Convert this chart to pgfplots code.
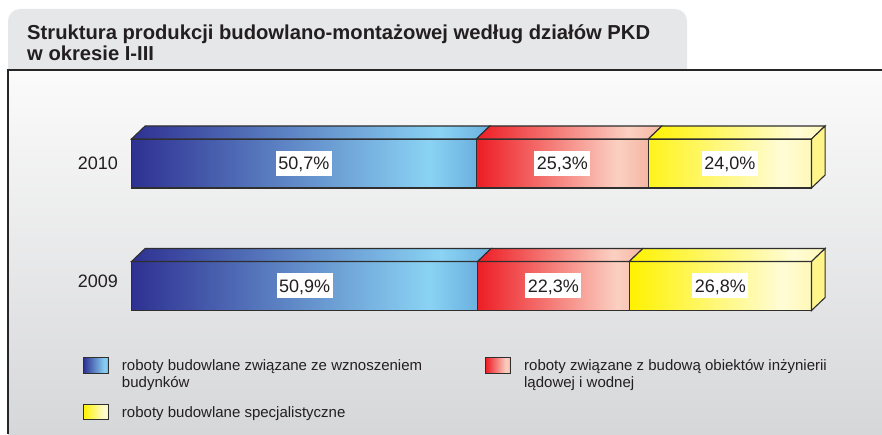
\documentclass[border=0pt]{standalone}
\usepackage{pgfplots}
\pgfplotsset{compat=1.18}
\usepackage{fontspec}
\setmainfont{Liberation Sans}
\definecolor{txt}{HTML}{231F20}
\definecolor{edge}{HTML}{2F2F2F}
\definecolor{bl1}{HTML}{2E3192}
\definecolor{bl2}{HTML}{8AD3F4}
\definecolor{bl3}{HTML}{6BB0DF}
\definecolor{rd1}{HTML}{ED1C24}
\definecolor{rd2}{HTML}{FBD0C2}
\definecolor{rd3}{HTML}{F5B6A3}
\definecolor{ye1}{HTML}{FFF200}
\definecolor{ye2}{HTML}{FFFCD6}
\definecolor{ye3}{HTML}{FFF8B8}
\definecolor{yeside}{HTML}{FFF58A}
\definecolor{titlegray}{HTML}{E6E7E8}
\definecolor{pantop}{HTML}{FBFBFB}
\definecolor{panbot}{HTML}{D6D7D9}
\pgfdeclarehorizontalshading{blueshade}{100bp}{color(0bp)=(bl1); color(25bp)=(bl1); color(68bp)=(bl2); color(75bp)=(bl3); color(100bp)=(bl3)}
\pgfdeclarehorizontalshading{redshade}{100bp}{color(0bp)=(rd1); color(25bp)=(rd1); color(66bp)=(rd2); color(75bp)=(rd3); color(100bp)=(rd3)}
\pgfdeclarehorizontalshading{yellowshade}{100bp}{color(0bp)=(ye1); color(25bp)=(ye1); color(67bp)=(ye2); color(75bp)=(ye3); color(100bp)=(ye3)}
\begin{document}
\begin{tikzpicture}
\useasboundingbox (0pt,0pt) rectangle (882pt,434pt);
% title box and panel
\fill[titlegray, rounded corners=12pt] (8pt,330pt) -- (8pt,425pt) -- (687pt,425pt) -- (687pt,330pt) -- cycle;
\shade[top color=pantop, bottom color=panbot] (8pt,0pt) rectangle (882pt,364pt);
\draw[line width=1.2pt, black!85] (8pt,0pt) -- (8pt,364pt) -- (882pt,364pt);
\node[anchor=base west, inner sep=0pt, text=txt, font=\bfseries\fontsize{20.2}{22}\selectfont] at (27pt,394pt) {Struktura produkcji budowlano-montażowej według działów PKD};
\node[anchor=base west, inner sep=0pt, text=txt, font=\bfseries\fontsize{20.2}{22}\selectfont] at (27pt,373pt) {w okresie I-III};
% front faces
\begin{axis}[
  at={(0pt,0pt)}, anchor=south west, scale only axis,
  width=882pt, height=434pt,
  xmin=-19.338, xmax=110.368, ymin=0, ymax=434,
  xbar stacked, bar width=49,
  axis line style={draw=none}, major tick length=0pt,
  xtick=\empty,
  ytick={153,270.5}, yticklabels={2009,2010},
  yticklabel style={anchor=east, inner sep=0pt, xshift=118pt, text=txt, font=\fontsize{18}{20}\selectfont},
  legend columns=2,
  legend style={at={(0.0941,0.1763)}, anchor=north west, draw=none, fill=none,
    inner sep=0pt, outer sep=0pt, row sep=30.4pt, text=txt,
    font=\fontsize{15}{17}\selectfont,
    cells={anchor=base west},
    nodes={inner sep=0pt},
    /tikz/every odd column/.append style={column sep=13pt},
    /tikz/every even column/.append style={column sep=63pt}},
]
\addplot[draw=edge, line width=1.1pt, shade, shading=blueshade,
  legend image code/.code={\draw[draw=edge, line width=1pt, shade, shading=blueshade] (0pt,-2.5pt) rectangle (25pt,12.8pt);}]
  coordinates {(50.9,148) (50.7,270.5)};
\addlegendentry{\begin{tabular}[t]{@{}l@{}}roboty budowlane związane ze wznoszeniem\\budynków\end{tabular}}
\addplot[draw=edge, line width=1.1pt, shade, shading=redshade,
  legend image code/.code={\draw[draw=edge, line width=1pt, shade, shading=redshade] (0pt,-2.5pt) rectangle (25pt,12.8pt);}]
  coordinates {(22.3,148) (25.3,270.5)};
\addlegendentry{\begin{tabular}[t]{@{}l@{}}roboty związane z budową obiektów inżynierii\\lądowej i wodnej\end{tabular}}
\addplot[draw=edge, line width=1.1pt, shade, shading=yellowshade,
  legend image code/.code={\draw[draw=edge, line width=1pt, shade, shading=yellowshade] (0pt,-2.5pt) rectangle (25pt,12.8pt);}]
  coordinates {(26.8,148) (24.0,270.5)};
\addlegendentry{\begin{tabular}[t]{@{}l@{}}roboty budowlane specjalistyczne\end{tabular}}
\end{axis}
% top and side faces, value labels
\begin{axis}[
  at={(0pt,0pt)}, anchor=south west, scale only axis,
  width=882pt, height=434pt,
  xmin=-19.338, xmax=110.368, ymin=0, ymax=434,
  hide axis, clip=false,
]
% 2010
\addplot[draw=edge, line width=1.1pt, shade, shading=blueshade] coordinates {(0,295) (50.7,295) (52.7,308) (2,308)} -- cycle;
\addplot[draw=edge, line width=1.1pt, shade, shading=redshade] coordinates {(50.7,295) (76,295) (78,308) (52.7,308)} -- cycle;
\addplot[draw=edge, line width=1.1pt, shade, shading=yellowshade] coordinates {(76,295) (100,295) (102,308) (78,308)} -- cycle;
\addplot[draw=edge, line width=1.1pt, fill=yeside] coordinates {(100,246) (100,295) (102,308) (102,259)} -- cycle;
% 2009
\addplot[draw=edge, line width=1.1pt, shade, shading=blueshade] coordinates {(0,172.5) (50.9,172.5) (52.9,185.5) (2,185.5)} -- cycle;
\addplot[draw=edge, line width=1.1pt, shade, shading=redshade] coordinates {(50.9,172.5) (73.2,172.5) (75.2,185.5) (52.9,185.5)} -- cycle;
\addplot[draw=edge, line width=1.1pt, shade, shading=yellowshade] coordinates {(73.2,172.5) (100,172.5) (102,185.5) (75.2,185.5)} -- cycle;
\addplot[draw=edge, line width=1.1pt, fill=yeside] coordinates {(100,123.5) (100,172.5) (102,185.5) (102,136.5)} -- cycle;
% labels
\addplot[only marks, mark=none, point meta=explicit symbolic, nodes near coords,
  every node near coord/.append style={anchor=center, fill=white, inner xsep=2.5pt, inner ysep=6pt,
    text height=13pt, text depth=0pt, text=txt, font=\fontsize{18}{20}\selectfont}]
  coordinates {
    (25.35,270.5) [50,7\%]
    (63.35,270.5) [25,3\%]
    (88.0,270.5) [24,0\%]
    (25.45,148) [50,9\%]
    (62.05,148) [22,3\%]
    (86.6,148) [26,8\%]
  };
\end{axis}
\end{tikzpicture}
\end{document}
